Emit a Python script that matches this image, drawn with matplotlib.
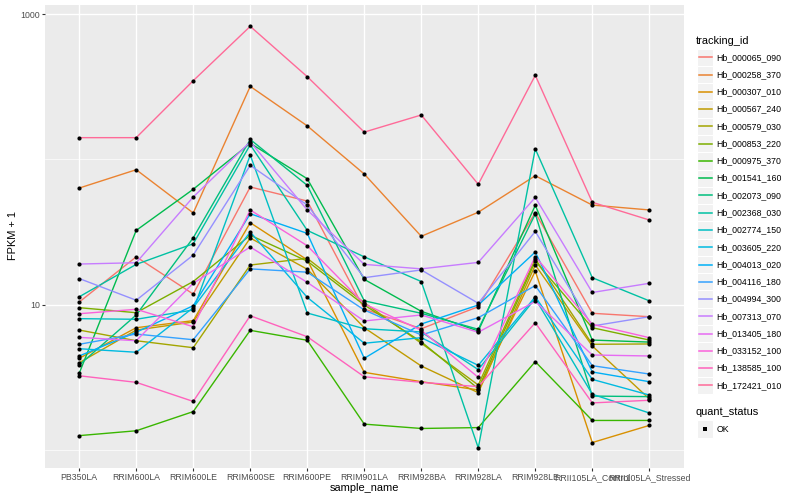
import numpy as np
import matplotlib.pyplot as plt
from matplotlib.patches import Rectangle
from matplotlib.ticker import FixedLocator, NullFormatter

plt.rcParams['font.family'] = ['Liberation Sans', 'DejaVu Sans']

# Echantillons (axe x)
samples = ["PB350LA", "RRIM600LA", "RRIM600LE", "RRIM600SE", "RRIM600PE",
           "RRIM901LA", "RRIM928BA", "RRIM928LA", "RRIM928LE",
           "RRII105LA_Control", "RRII105LA_Stressed"]

# FPKM + 1 par gène
hb_000065_090 = [10.4, 21.3, 11.8, 64.5, 51.6, 9.31, 6.81, 9.66, 42.9, 8.70, 8.24]
hb_000258_370 = [63.4, 84.8, 42.7, 318, 170, 79.2, 29.5, 43.2, 77.1, 48.4, 44.8]
hb_000307_010 = [4.26, 6.92, 7.74, 36.6, 20.3, 3.41, 2.94, 2.58, 17.0, 1.12, 1.47]
hb_000567_240 = [3.97, 6.67, 7.58, 28.7, 17.5, 6.92, 3.77, 2.47, 18.7, 5.18, 2.24]
hb_000579_030 = [6.67, 5.63, 5.04, 18.7, 20.8, 10.3, 5.41, 2.79, 20.6, 5.32, 5.35]
hb_000853_220 = [9.51, 8.78, 14.4, 30.0, 19.9, 9.92, 5.54, 2.63, 19.9, 6.92, 5.69]
hb_000975_370 = [1.25, 1.35, 1.83, 6.64, 5.67, 1.50, 1.40, 1.42, 4.04, 1.59, 1.59]
hb_001541_160 = [3.36, 32.4, 62.2, 129, 73.5, 14.9, 8.98, 6.57, 48.2, 5.69, 5.51]
hb_002073_090 = [3.83, 8.47, 28.8, 137, 66.2, 10.6, 8.70, 6.75, 42.0, 2.34, 2.32]
hb_002368_030 = [11.3, 18.9, 26.2, 126, 32.4, 21.3, 14.4, 1.03, 118, 15.3, 10.6]
hb_002774_150 = [7.99, 7.91, 9.17, 107, 8.74, 6.81, 6.47, 3.56, 11.0, 2.41, 1.79]
hb_003605_220 = [4.96, 4.69, 9.51, 31.6, 11.2, 5.41, 5.91, 3.81, 11.3, 3.05, 2.38]
hb_004013_020 = [4.42, 6.44, 9.81, 42.2, 30.9, 4.26, 7.34, 9.92, 23.0, 3.43, 2.94]
hb_004116_180 = [5.32, 6.26, 5.72, 17.6, 16.7, 9.17, 6.17, 8.11, 13.5, 3.79, 3.32]
hb_004994_300 = [15.1, 10.7, 21.9, 90.9, 48.4, 15.3, 17.3, 10.2, 31.9, 7.11, 8.24]
hb_007313_070 = [19.0, 19.4, 55.0, 132, 44.8, 18.9, 17.6, 19.5, 54.7, 12.1, 14.0]
hb_013405_180 = [5.94, 5.63, 14.0, 24.9, 14.2, 7.70, 8.47, 6.44, 10.5, 4.49, 4.42]
hb_033152_100 = [8.64, 9.27, 7.03, 44.8, 25.4, 10.1, 6.64, 3.15, 21.4, 7.31, 5.91]
hb_138585_100 = [3.23, 2.91, 2.15, 8.37, 6.00, 3.18, 2.91, 2.72, 7.49, 2.10, 2.19]
hb_172421_010 = [141, 141, 348, 824, 371, 154, 202, 67.3, 379, 50.6, 38.2]

tracking_ids = ["Hb_000065_090", "Hb_000258_370", "Hb_000307_010", "Hb_000567_240",
                "Hb_000579_030", "Hb_000853_220", "Hb_000975_370", "Hb_001541_160",
                "Hb_002073_090", "Hb_002368_030", "Hb_002774_150", "Hb_003605_220",
                "Hb_004013_020", "Hb_004116_180", "Hb_004994_300", "Hb_007313_070",
                "Hb_013405_180", "Hb_033152_100", "Hb_138585_100", "Hb_172421_010"]
series = [hb_000065_090, hb_000258_370, hb_000307_010, hb_000567_240, hb_000579_030,
          hb_000853_220, hb_000975_370, hb_001541_160, hb_002073_090, hb_002368_030,
          hb_002774_150, hb_003605_220, hb_004013_020, hb_004116_180, hb_004994_300,
          hb_007313_070, hb_013405_180, hb_033152_100, hb_138585_100, hb_172421_010]


# Palette "hue" de ggplot (HCL, c=100, l=65)
def hcl_hex(h, c=100, l=65):
    xn, yn, zn = 0.95047, 1.0, 1.08883
    un = 4 * xn / (xn + 15 * yn + 3 * zn)
    vn = 9 * yn / (xn + 15 * yn + 3 * zn)
    u = c * np.cos(np.radians(h))
    v = c * np.sin(np.radians(h))
    Y = ((l + 16) / 116) ** 3
    up = u / (13 * l) + un
    vp = v / (13 * l) + vn
    X = Y * 9 * up / (4 * vp)
    Z = Y * (12 - 3 * up - 20 * vp) / (4 * vp)
    rgb = [3.240479 * X - 1.537150 * Y - 0.498535 * Z,
           -0.969256 * X + 1.875992 * Y + 0.041556 * Z,
           0.055648 * X - 0.204043 * Y + 1.057311 * Z]
    out = []
    for ch in rgb:
        ch = 1.055 * ch ** (1 / 2.4) - 0.055 if ch > 0.0031308 else 12.92 * ch
        out.append(min(max(ch, 0), 1))
    return tuple(out)


n = len(tracking_ids)
couleurs = [hcl_hex(h) for h in np.linspace(15, 375, n + 1)[:-1]]

fig = plt.figure(figsize=(8, 5), dpi=100)
ax = fig.add_axes([45 / 800, 32 / 500, 638.5 / 800, 463 / 500])
ax.set_facecolor('#EBEBEB')
for s in ax.spines.values():
    s.set_visible(False)

x = np.arange(len(samples))
for vals, col in zip(series, couleurs):
    ax.plot(x, vals, color=col, lw=1.0, zorder=3)
for vals in series:
    ax.plot(x, vals, 'o', color='black', ms=3.0, mew=0, zorder=4)

ax.set_yscale('log')
ax.set_ylim(0.748, 1156)
ax.set_xlim(-0.6, len(samples) - 0.4)
ax.set_yticks([10, 1000])
ax.set_yticklabels(['10', '1000'])
ax.yaxis.set_minor_locator(FixedLocator([1, 100]))
ax.yaxis.set_minor_formatter(NullFormatter())
ax.set_xticks(x)
ax.set_xticklabels(samples)
ax.tick_params(which='major', length=2, width=0.8, color='#333333',
               labelsize=6.3, labelcolor='#4D4D4D', pad=1.6)
ax.tick_params(which='minor', length=0)
ax.grid(which='major', color='white', lw=1.0, zorder=0)
ax.grid(which='minor', axis='y', color='white', lw=0.5, zorder=0)
ax.set_axisbelow(True)

fig.text(364 / 800, 1 - 488 / 500, 'sample_name', ha='center', va='center', fontsize=7.9)
fig.text(13 / 800, 1 - 236 / 500, 'FPKM + 1', ha='center', va='center',
         rotation=90, fontsize=7.9)

# Légende (coordonnées en pixels)
lax = fig.add_axes([0, 0, 1, 1], zorder=10)
lax.set_xlim(0, 800)
lax.set_ylim(500, 0)
lax.axis('off')

lax.text(696, 40.7, 'tracking_id', va='center', ha='left', fontsize=7.9)
pas = 17.27
for i, (nom, col) in enumerate(zip(tracking_ids, couleurs)):
    yc = 57.3 + i * pas
    lax.add_patch(Rectangle((697, yc - pas / 2), 16, pas, facecolor='#F2F2F2',
                            edgecolor='white', lw=0.8))
    lax.plot([698.5, 711.5], [yc, yc], color=col, lw=1.1)
    lax.text(716.5, yc, nom, va='center', ha='left', fontsize=6.3)

lax.text(696, 412.3, 'quant_status', va='center', ha='left', fontsize=7.9)
lax.add_patch(Rectangle((697, 429 - pas / 2), 16, pas, facecolor='#F2F2F2',
                        edgecolor='white', lw=0.8))
lax.plot([705], [429], 's', color='black', ms=2.2, mew=0)
lax.text(716.5, 429, 'OK', va='center', ha='left', fontsize=6.3)

fig.savefig('out.png', dpi=100)
